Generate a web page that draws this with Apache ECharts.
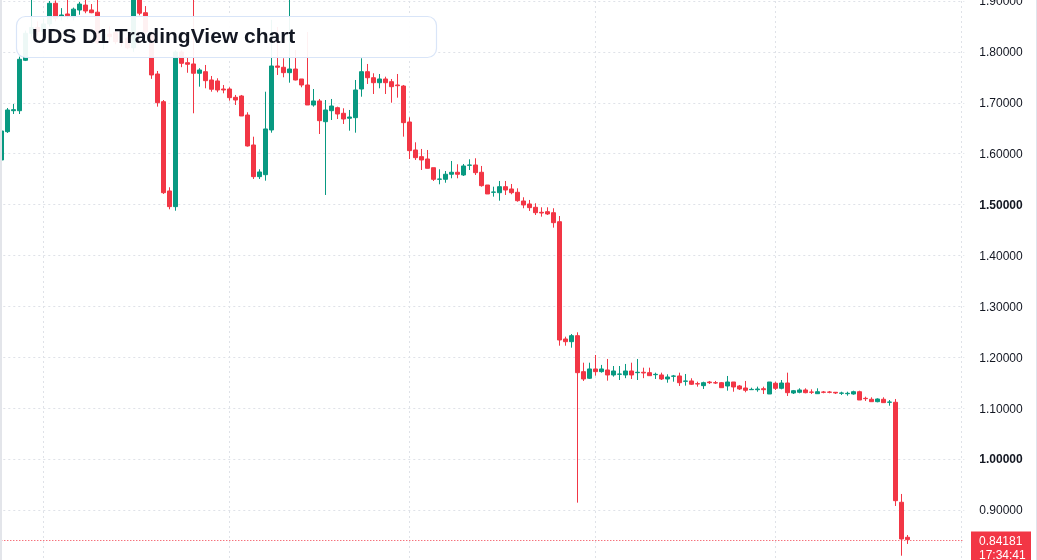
<!DOCTYPE html>
<html>
<head>
<meta charset="utf-8">
<title>UDS D1 TradingView chart</title>
<script src="https://cdn.jsdelivr.net/npm/echarts@6/dist/echarts.min.js"></script>
<style>
  html, body { margin: 0; padding: 0; background: #fff; }
  #main { width: 1037px; height: 560px; }
</style>
</head>
<body>
<div id="main"></div>
<script>
// daily candles
var opens = [1.5877,1.6433,1.6845,1.6845,1.7835,1.8366,1.848,1.840,1.855,1.8955,
  1.870,1.8745,1.868,1.8823,1.892,1.8824,1.878,1.818,1.835,1.838,
  1.82,1.827,1.808,1.905,1.877,1.835,1.7566,1.7022,1.5268,1.496,
  1.7998,1.7788,1.7763,1.758,1.7611,1.7448,1.7429,1.7271,1.7271,1.7108,
  1.7134,1.676,1.6171,1.5549,1.5588,1.6466,1.7723,1.7698,1.7592,1.7664,
  1.7468,1.735,1.6957,1.7036,1.6629,1.6845,1.6904,1.6794,1.6696,1.6708,
  1.7271,1.7611,1.7493,1.7395,1.7468,1.7415,1.735,1.733,1.6623,1.6073,
  1.5942,1.5896,1.5725,1.5497,1.5497,1.5596,1.5635,1.5582,1.5772,1.5778,
  1.5635,1.5385,1.5242,1.5234,1.5352,1.5307,1.5242,1.5071,1.5012,1.4947,
  1.4849,1.4861,1.4841,1.4664,1.236,1.2307,1.2425,1.1718,1.1588,1.1771,
  1.1718,1.1751,1.1653,1.1666,1.1653,1.1731,1.1698,1.1706,1.1698,1.1659,
  1.1653,1.1574,1.1627,1.1633,1.1528,1.1535,1.1482,1.1443,1.1515,1.1501,
  1.1501,1.1437,1.1515,1.1437,1.1397,1.1364,1.1364,1.1383,1.1279,1.149,
  1.1391,1.1495,1.1299,1.1313,1.1358,1.1318,1.1285,1.1318,1.1318,1.1313,
  1.1293,1.1285,1.1279,1.1324,1.1194,1.1175,1.1128,1.1175,1.1116,1.1116,
  0.9152,0.8464];
var closes = [1.6446,1.6859,1.6865,1.7855,1.8366,1.848,1.840,1.855,1.8955,1.866,
  1.8725,1.871,1.884,1.894,1.8804,1.877,1.818,1.835,1.83,1.82,
  1.818,1.808,1.905,1.876,1.839,1.7547,1.7002,1.5234,1.496,1.7998,
  1.7776,1.7757,1.758,1.7645,1.7435,1.7266,1.7252,1.7252,1.7101,1.7055,
  1.6741,1.6152,1.5549,1.5641,1.6486,1.7723,1.7698,1.7592,1.7664,1.7448,
  1.735,1.6957,1.7036,1.6649,1.6859,1.6937,1.678,1.6682,1.6721,1.7252,
  1.7611,1.7493,1.7395,1.7468,1.7395,1.7317,1.7336,1.661,1.606,1.5922,
  1.5877,1.5713,1.5497,1.5503,1.5596,1.5635,1.5596,1.5759,1.5778,1.5627,
  1.5372,1.5209,1.5248,1.5352,1.5287,1.5234,1.5077,1.4993,1.494,1.4841,
  1.4835,1.4816,1.4645,1.234,1.2307,1.2425,1.1698,1.1574,1.1771,1.1718,
  1.1771,1.1653,1.1731,1.1672,1.1731,1.1653,1.1706,1.1692,1.1639,1.1666,
  1.1574,1.1613,1.1633,1.1501,1.1535,1.147,1.1476,1.1501,1.1501,1.1495,
  1.1403,1.1515,1.1417,1.1378,1.1352,1.137,1.1377,1.1364,1.1515,1.1391,
  1.1495,1.1305,1.1344,1.1358,1.1305,1.1313,1.1324,1.1313,1.1313,1.1299,
  1.1299,1.1293,1.1324,1.1161,1.1187,1.1128,1.1181,1.1109,1.1122,0.9183,
  0.8431,0.84181];
var lows = [1.585,1.6407,1.678,1.678,1.782,1.83,1.832,1.835,1.85,1.86,
  1.862,1.865,1.862,1.873,1.876,1.876,1.815,1.805,1.82,1.815,
  1.81,1.805,1.80,1.872,1.835,1.747,1.6924,1.5209,1.4908,1.488,
  1.770,1.759,1.6794,1.7317,1.7285,1.7218,1.7207,1.7187,1.7042,1.6957,
  1.674,1.614,1.5503,1.5503,1.547,1.6413,1.7547,1.7501,1.7395,1.744,
  1.7305,1.6957,1.6924,1.6387,1.5189,1.6662,1.6682,1.6584,1.6452,1.6413,
  1.712,1.737,1.7173,1.7285,1.7173,1.7002,1.7101,1.6335,1.5896,1.5877,
  1.568,1.571,1.5464,1.5399,1.543,1.5517,1.5517,1.5562,1.568,1.5582,
  1.5352,1.5209,1.5156,1.5077,1.5189,1.5203,1.5057,1.4928,1.4875,1.4796,
  1.4763,1.4796,1.4547,1.2228,1.2228,1.2189,0.9144,1.1535,1.1574,1.1639,
  1.1698,1.1541,1.162,1.1554,1.159,1.1574,1.1554,1.159,1.1635,1.1574,
  1.1554,1.1501,1.1521,1.1437,1.1443,1.1456,1.1423,1.1378,1.1476,1.1476,
  1.140,1.1344,1.1324,1.1358,1.1313,1.1358,1.1324,1.1279,1.1279,1.1358,
  1.1371,1.124,1.1279,1.1293,1.1293,1.1279,1.1279,1.1293,1.1293,1.1279,
  1.126,1.1246,1.1266,1.1161,1.1142,1.1128,1.1116,1.1109,1.1049,0.9079,
  0.8102,0.8333];
var highs = [1.648,1.6898,1.6977,1.7906,1.842,1.915,1.86,1.866,1.900,1.901,
  1.886,1.91,1.887,1.898,1.905,1.894,1.905,1.845,1.85,1.845,
  1.83,1.83,1.92,1.912,1.890,1.84,1.7625,1.7055,1.534,1.803,
  1.803,1.79,1.915,1.768,1.7743,1.7527,1.7482,1.735,1.7305,1.7154,
  1.7154,1.6814,1.6334,1.5694,1.7218,1.863,1.849,1.7875,1.915,1.8038,
  1.7468,1.839,1.7271,1.7075,1.7055,1.7075,1.6924,1.6892,1.6859,1.7448,
  1.7875,1.7763,1.758,1.7566,1.7513,1.7468,1.7566,1.735,1.6715,1.6224,
  1.6093,1.6073,1.5725,1.5694,1.566,1.5857,1.5792,1.5798,1.589,1.591,
  1.5759,1.5385,1.5352,1.5464,1.5464,1.5405,1.532,1.5144,1.5091,1.5026,
  1.4947,1.4947,1.4928,1.4776,1.2405,1.2458,1.2491,1.1894,1.1894,1.2045,
  1.185,1.1967,1.1829,1.1829,1.1869,1.1894,1.1967,1.1796,1.1796,1.1698,
  1.1698,1.1666,1.1653,1.1698,1.1672,1.1588,1.1521,1.1521,1.1535,1.1535,
  1.1515,1.1633,1.1515,1.1456,1.1535,1.1403,1.1423,1.1423,1.1515,1.1521,
  1.1554,1.1698,1.1358,1.1391,1.1391,1.1371,1.1391,1.1338,1.1338,1.1318,
  1.1324,1.1324,1.1344,1.1344,1.1226,1.1214,1.1194,1.1214,1.1161,1.1181,
  0.9315,0.8509];

var boldLevels = ['1.50000', '1.00000'];  // round levels drawn bold on the price scale
var lastClose = closes[closes.length - 1];
var countdown = '17:34:41';
var titleText = 'UDS D1 TradingView chart';

var upColor = '#089981';
var downColor = '#f23645';
var FONT = '"Liberation Sans", Arial, sans-serif';

// one category per day, plus some empty days on the right
var dates = [];
var start = Date.UTC(2025, 6, 25);
for (var i = 0; i < 161; i++) {
  dates.push(new Date(start + i * 86400000).toISOString().slice(0, 10));
}

var candles = [];
for (var k = 0; k < opens.length; k++) {
  candles.push([opens[k], closes[k], lows[k], highs[k]]);
}

var chart = echarts.init(document.getElementById('main'), null, { renderer: 'canvas' });

var gridLine = { color: '#dfe2e8', width: 1, type: [2, 3] };

var option = {
  animation: false,
  backgroundColor: '#ffffff',
  grid: {
    left: -1.7,
    right: 72.7,
    top: 1,
    bottom: -0.9,
    outerBoundsMode: 'none'
  },
  xAxis: {
    type: 'category',
    data: dates,
    boundaryGap: true,
    axisLine: { show: false },
    axisTick: { show: false },
    axisLabel: { show: false },
    splitLine: {
      show: true,
      alignWithLabel: true,
      interval: function (idx) { return dates[idx].slice(8) === '01'; },
      lineStyle: gridLine
    }
  },
  yAxis: {
    type: 'value',
    position: 'right',
    min: 0.8,
    max: 1.9,
    interval: 0.1,
    axisLine: { show: false },
    axisTick: { show: false },
    splitLine: { show: true, lineStyle: gridLine },
    axisLabel: {
      margin: 15,
      padding: [2, 0, 0, 0],
      color: '#131722',
      fontSize: 12,
      fontFamily: FONT,
      formatter: function (v) {
        var s = v.toFixed(5);
        return boldLevels.indexOf(s) >= 0 ? '{b|' + s + '}' : s;
      },
      rich: {
        b: { fontWeight: 'bold', color: '#131722', fontSize: 12, fontFamily: FONT }
      }
    }
  },
  series: [{
    type: 'candlestick',
    data: candles,
    barWidth: 4,
    clip: false,
    itemStyle: {
      color: upColor,
      color0: downColor,
      borderColor: upColor,
      borderColor0: downColor,
      borderWidth: 1
    },
    markLine: {
      silent: true,
      symbol: ['none', 'none'],
      label: { show: false },
      lineStyle: { color: downColor, width: 1, type: [1, 2] },
      data: [{ yAxis: lastClose }]
    }
  }]
};

chart.setOption(option);

// price tag on the scale, placed from the axis
var py = chart.convertToPixel({ yAxisIndex: 0 }, lastClose);

chart.setOption({
  graphic: [
    { type: 'rect', id: 'leftBorder', left: 0, top: 0, shape: { width: 2, height: 560 }, style: { fill: '#e3e5ea' }, z: 100 },
    { type: 'rect', id: 'rightBorder', left: 1036, top: 0, shape: { width: 1, height: 560 }, style: { fill: '#e0e3eb' }, z: 100 },
    {
      type: 'rect', id: 'titleBox',
      shape: { x: 16.5, y: 16.5, width: 420, height: 41, r: 9 },
      style: { fill: 'rgba(255,255,255,0.93)', stroke: '#d9e5f8', lineWidth: 1.2 },
      z: 100
    },
    {
      type: 'text', id: 'titleText',
      x: 32, y: 37.5,
      style: { text: titleText, fill: '#131722', font: 'bold 21px ' + FONT, verticalAlign: 'middle' },
      z: 101
    },
    {
      type: 'rect', id: 'priceBox',
      shape: { x: 971, y: py - 8, width: 60, height: 36 },
      style: { fill: downColor },
      z: 100
    },
    {
      type: 'text', id: 'priceText',
      x: 979, y: py + 2,
      style: { text: lastClose.toFixed(5), fill: '#ffffff', font: '12px ' + FONT, verticalAlign: 'middle' },
      z: 101
    },
    {
      type: 'text', id: 'countText',
      x: 979, y: py + 16,
      style: { text: countdown, fill: '#ffffff', font: '12px ' + FONT, verticalAlign: 'middle' },
      z: 101
    }
  ]
});
</script>
</body>
</html>
